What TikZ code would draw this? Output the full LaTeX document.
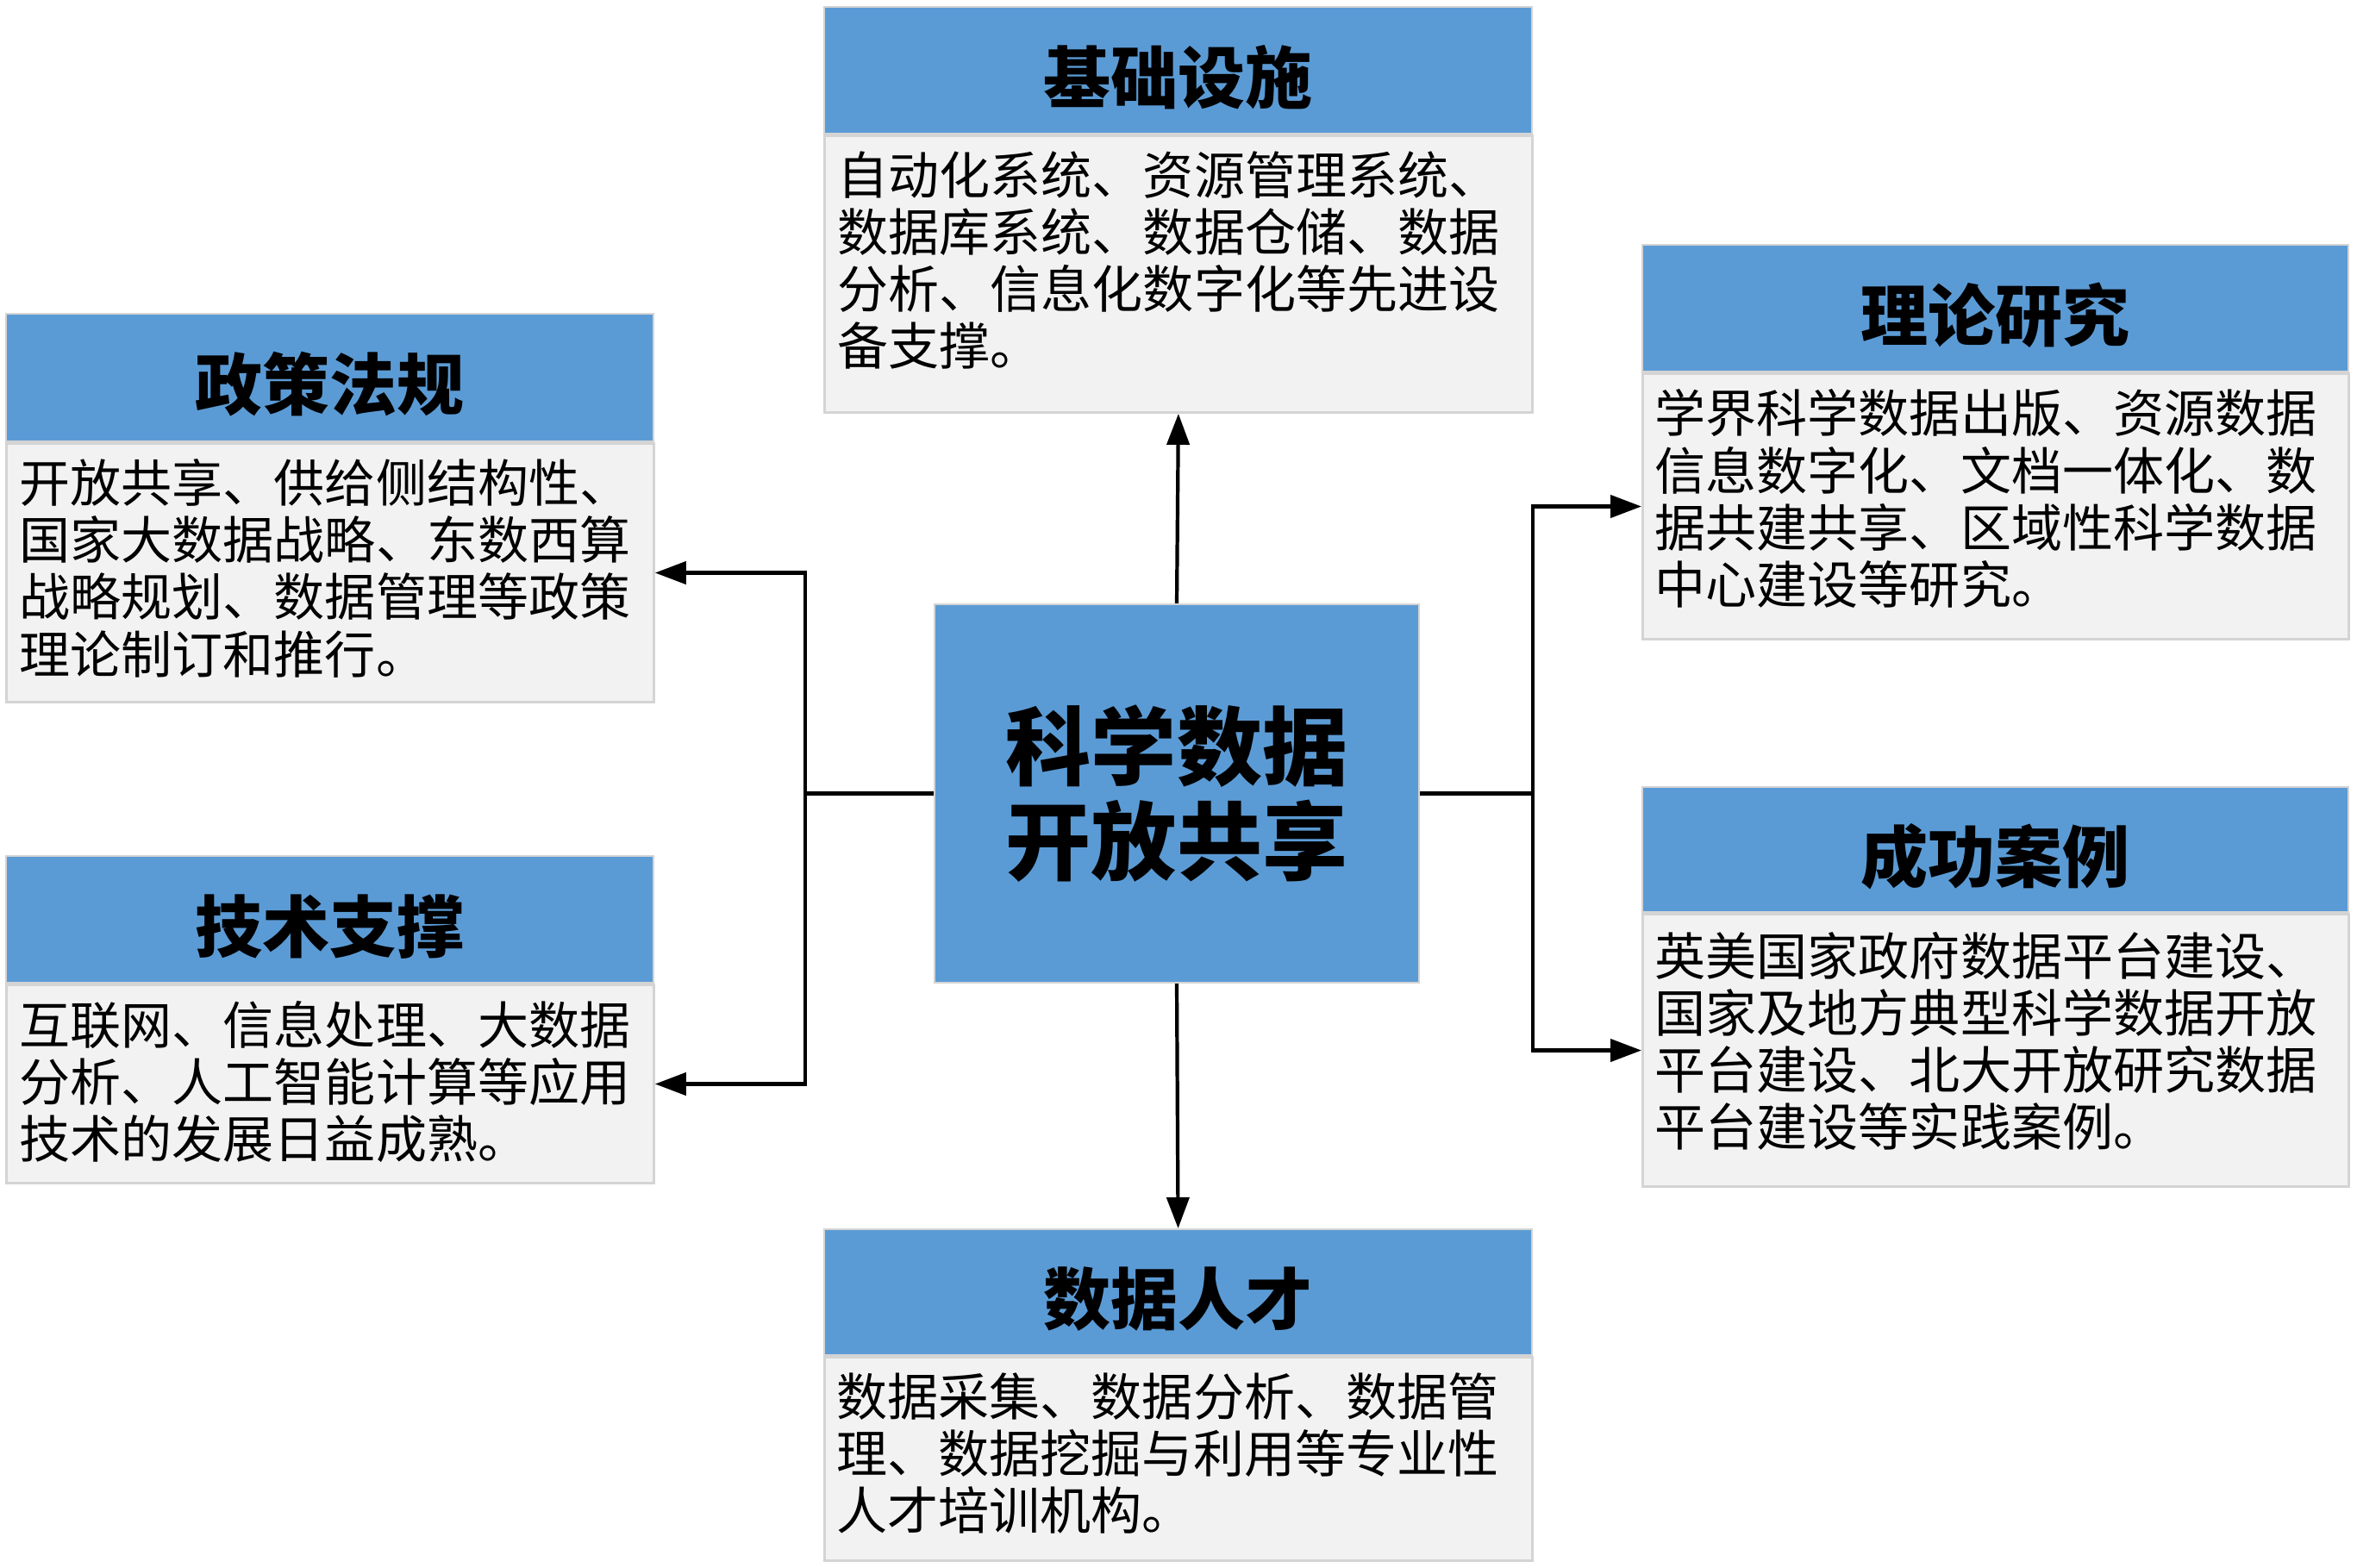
\documentclass[tikz,border=0pt]{standalone}
\usepackage{fontspec}
\setmainfont{Noto Sans CJK SC}
\usetikzlibrary{arrows.meta,calc}
\definecolor{hblue}{HTML}{5B9BD5}
\definecolor{bgray}{HTML}{F2F2F2}
\definecolor{lgray}{HTML}{D4D4D4}
\tikzset{
  head/.style={draw=lgray, line width=0.6pt, fill=hblue, anchor=north west, inner sep=0pt,
    font=\fontsize{22.2pt}{26pt}\selectfont\bfseries, text height=21.4pt, text depth=0pt},
  bodybox/.style={draw=lgray, line width=0.8pt, fill=bgray, anchor=north west, inner sep=0pt},
  bodytext/.style={anchor=north west, inner sep=0pt, align=left,
    font=\fontsize{16.8pt}{18.8pt}\selectfont},
  hub/.style={draw=lgray, line width=0.6pt, fill=hblue, inner sep=0pt, align=center,
    minimum width=5.62cm, minimum height=4.39cm,
    font=\fontsize{28.2pt}{31.3pt}\selectfont\bfseries},
  conn/.style={line width=1.2pt, draw=black},
  arr/.style={conn, -{Triangle[length=0.36cm, width=0.26cm]}}
}
\begin{document}
\begin{tikzpicture}
\useasboundingbox (0,0) rectangle (27.34,-18.19);
\fill[white] (0,0) rectangle (27.34,-18.19);

% 基础设施
\node[head, minimum width=8.21cm, minimum height=1.47cm] (infrah) at (9.55,-0.07) {基础设施};
\node[bodybox, minimum width=8.21cm, minimum height=3.21cm] (infrab) at (infrah.south west) {};
\node[bodytext] (infrat) at ($(infrab.north west)+(0.16,-0.19)$)
  {自动化系统、资源管理系统、\\数据库系统、数据仓储、数据\\分析、信息化数字化等先进设\\备支撑。};

% 政策法规
\node[head, minimum width=7.51cm, minimum height=1.48cm] (polh) at (0.06,-3.63) {政策法规};
\node[bodybox, minimum width=7.51cm, minimum height=3.00cm] (polb) at (polh.south west) {};
\node[bodytext] (polt) at ($(polb.north west)+(0.16,-0.19)$)
  {开放共享、供给侧结构性、\\国家大数据战略、东数西算\\战略规划、数据管理等政策\\理论制订和推行。};

% 技术支撑
\node[head, minimum width=7.51cm, minimum height=1.47cm] (tech) at (0.06,-9.92) {技术支撑};
\node[bodybox, minimum width=7.51cm, minimum height=2.30cm] (techb) at (tech.south west) {};
\node[bodytext] (techt) at ($(techb.north west)+(0.16,-0.19)$)
  {互联网、信息处理、大数据\\分析、人工智能计算等应用\\技术的发展日益成熟。};

% 理论研究
\node[head, minimum width=8.19cm, minimum height=1.47cm] (theoh) at (19.04,-2.83) {理论研究};
\node[bodybox, minimum width=8.19cm, minimum height=3.08cm] (theob) at (theoh.south west) {};
\node[bodytext] (theot) at ($(theob.north west)+(0.15,-0.19)$)
  {学界科学数据出版、资源数据\\信息数字化、文档一体化、数\\据共建共享、区域性科学数据\\中心建设等研究。};

% 成功案例
\node[head, minimum width=8.19cm, minimum height=1.45cm] (caseh) at (19.04,-9.12) {成功案例};
\node[bodybox, minimum width=8.19cm, minimum height=3.16cm] (caseb) at (caseh.south west) {};
\node[bodytext] (caset) at ($(caseb.north west)+(0.15,-0.21)$)
  {英美国家政府数据平台建设、\\国家及地方典型科学数据开放\\平台建设、北大开放研究数据\\平台建设等实践案例。};

% 数据人才
\node[head, minimum width=8.21cm, minimum height=1.46cm] (talh) at (9.55,-14.25) {数据人才};
\node[bodybox, minimum width=8.21cm, minimum height=2.36cm] (talb) at (talh.south west) {};
\node[bodytext] (talt) at ($(talb.north west)+(0.15,-0.19)$)
  {数据采集、数据分析、数据管\\理、数据挖掘与利用等专业性\\人才培训机构。};

% 中心
\node[hub] (hub) at (13.65,-9.205) {科学数据\\开放共享};

% 连接
\coordinate (lj) at ($(hub.west)+(-1.49,0)$);
\coordinate (rj) at ($(hub.east)+(1.31,0)$);
\draw[arr] (hub.north) -- (infrab.south);
\draw[arr] (hub.south) -- (talh.north);
\draw[conn] (hub.west) -- (lj);
\draw[arr] (lj) |- (polb.east);
\draw[arr] (lj) |- (techb.east);
\draw[conn] (hub.east) -- (rj);
\draw[arr] (rj) |- (theob.west);
\draw[arr] (rj) |- (caseb.west);
\end{tikzpicture}
\end{document}
